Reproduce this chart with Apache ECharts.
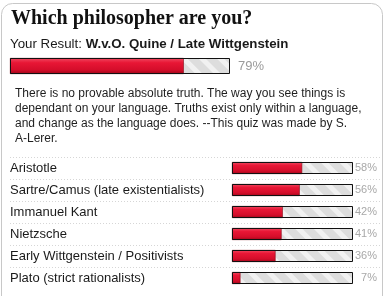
<!DOCTYPE html>
<html><head><meta charset="utf-8">
<script src="https://cdn.jsdelivr.net/npm/echarts@6/dist/echarts.min.js"></script>
<style>html,body{margin:0;padding:0;background:#fff}#c{width:385px;height:296px}</style>
</head><body><div id="c"></div>
<script>
// ---- data ----
const titleText = 'Which philosopher are you?';
const resultLabel = 'Your Result: ';
const resultName = 'W.v.O. Quine / Late Wittgenstein';
const resultValue = [79];
const descLines = [
  'There is no provable absolute truth. The way you see things is',
  'dependant on your language. Truths exist only within a language,',
  'and change as the language does. --This quiz was made by S.',
  'A-Lerer.'
];
const categories = [
  'Aristotle',
  'Sartre/Camus (late existentialists)',
  'Immanuel Kant',
  'Nietzsche',
  'Early Wittgenstein / Positivists',
  'Plato (strict rationalists)'
];
const values = [58, 56, 42, 41, 36, 7];
const fullScale = 100;

// ---- styles ----
const SANS = 'Liberation Sans, Arial, sans-serif';
const redGrad = new echarts.graphic.LinearGradient(0, 0, 0, 1, [
  { offset: 0, color: '#f04a62' },
  { offset: 0.3, color: '#e81635' },
  { offset: 0.75, color: '#d40d2a' },
  { offset: 1, color: '#9c0618' }
]);
const stripeDecal = {
  symbol: 'rect', symbolSize: 1,
  dashArrayX: [1, 0], dashArrayY: [5, 8],
  rotation: Math.PI / 4,
  color: 'rgba(255,255,255,0.6)'
};
function barSeries(axisIdx, data, bw) {
  const full = data.map(() => fullScale);
  const yIdx = axisIdx === 0 ? 0 : 2;
  return [
    { type: 'bar', xAxisIndex: axisIdx, yAxisIndex: yIdx, data: full, barWidth: bw, barGap: '-100%',
      silent: true, z: 1, itemStyle: { color: '#dddddd', decal: stripeDecal } },
    { type: 'bar', xAxisIndex: axisIdx, yAxisIndex: yIdx, data: data, barWidth: bw, barGap: '-100%',
      silent: true, z: 2, itemStyle: { color: redGrad, borderColor: '#8a0a18', borderWidth: 0.6 } },
    { type: 'bar', xAxisIndex: axisIdx, yAxisIndex: yIdx, data: full, barWidth: bw, barGap: '-100%',
      silent: true, z: 3, itemStyle: { color: 'transparent', borderColor: '#111', borderWidth: 1 } }
  ];
}

const chart = echarts.init(document.getElementById('c'), null, { renderer: 'canvas' });
const option = {
  animation: false,
  backgroundColor: '#fff',
  grid: [
    { left: 10, width: 220, top: 58, height: 16 },     // result bar
    { left: 232, width: 121, top: 157, height: 132 },  // other bars
    { left: 10, right: 5, top: 157, height: 132 }      // row labels + separators
  ],
  xAxis: [
    { gridIndex: 0, type: 'value', min: 0, max: fullScale, show: false },
    { gridIndex: 1, type: 'value', min: 0, max: fullScale, show: false },
    { gridIndex: 2, type: 'value', min: 0, max: 1, show: false }
  ],
  yAxis: [
    { gridIndex: 0, type: 'category', data: [''], show: false },
    { gridIndex: 0, type: 'category', position: 'right', data: resultValue.map(v => v + '%'),
      axisLine: { show: false }, axisTick: { show: false }, splitLine: { show: false },
      axisLabel: { margin: 8, color: '#9a9a9a', fontFamily: SANS, fontSize: 13, align: 'left' } },
    { gridIndex: 1, type: 'category', data: categories, inverse: true, show: false },
    { gridIndex: 1, type: 'category', position: 'right', data: values.map(v => v + '%'), inverse: true,
      axisLine: { show: false }, axisTick: { show: false }, splitLine: { show: false },
      axisLabel: { margin: 24, color: '#a8a8a8', fontFamily: SANS, fontSize: 11, align: 'right' } },
    { gridIndex: 2, type: 'category', data: categories, inverse: true,
      axisLine: { show: false }, axisTick: { show: false },
      splitLine: { show: true, showMinLine: true, showMaxLine: false,
        lineStyle: { color: '#d6d6d6', type: [1, 2], width: 1 } },
      axisLabel: { inside: true, margin: 0, align: 'left', color: '#1a1a1a', fontFamily: SANS, fontSize: 13 } }
  ],
  series: [].concat(barSeries(0, resultValue, 16), barSeries(1, values, 12)),
  graphic: [
    { type: 'rect', silent: true, z: -10, shape: { x: 1.5, y: 3.5, width: 381, height: 310, r: 11 },
      style: { fill: '#fff', stroke: '#c8c8c8', lineWidth: 1 } },
    { type: 'text', left: 11, top: 9, silent: true,
      style: { text: titleText, font: 'bold 20px "Liberation Serif", Georgia, serif', fill: '#111' } },
    { type: 'text', left: 10, top: 38, silent: true,
      style: { text: '{a|' + resultLabel + '}{b|' + resultName + '}',
        rich: { a: { fontFamily: SANS, fontSize: 13.3, fill: '#1a1a1a' },
                b: { fontFamily: SANS, fontSize: 13.3, fontWeight: 'bold', fill: '#1a1a1a' } } } },
    { type: 'text', left: 15, top: 86, silent: true,
      style: { text: descLines.join('\n'), fontFamily: SANS, fontSize: 12, lineHeight: 15, fill: '#1f1f1f' } }
  ]
};
chart.setOption(option);
</script></body></html>
